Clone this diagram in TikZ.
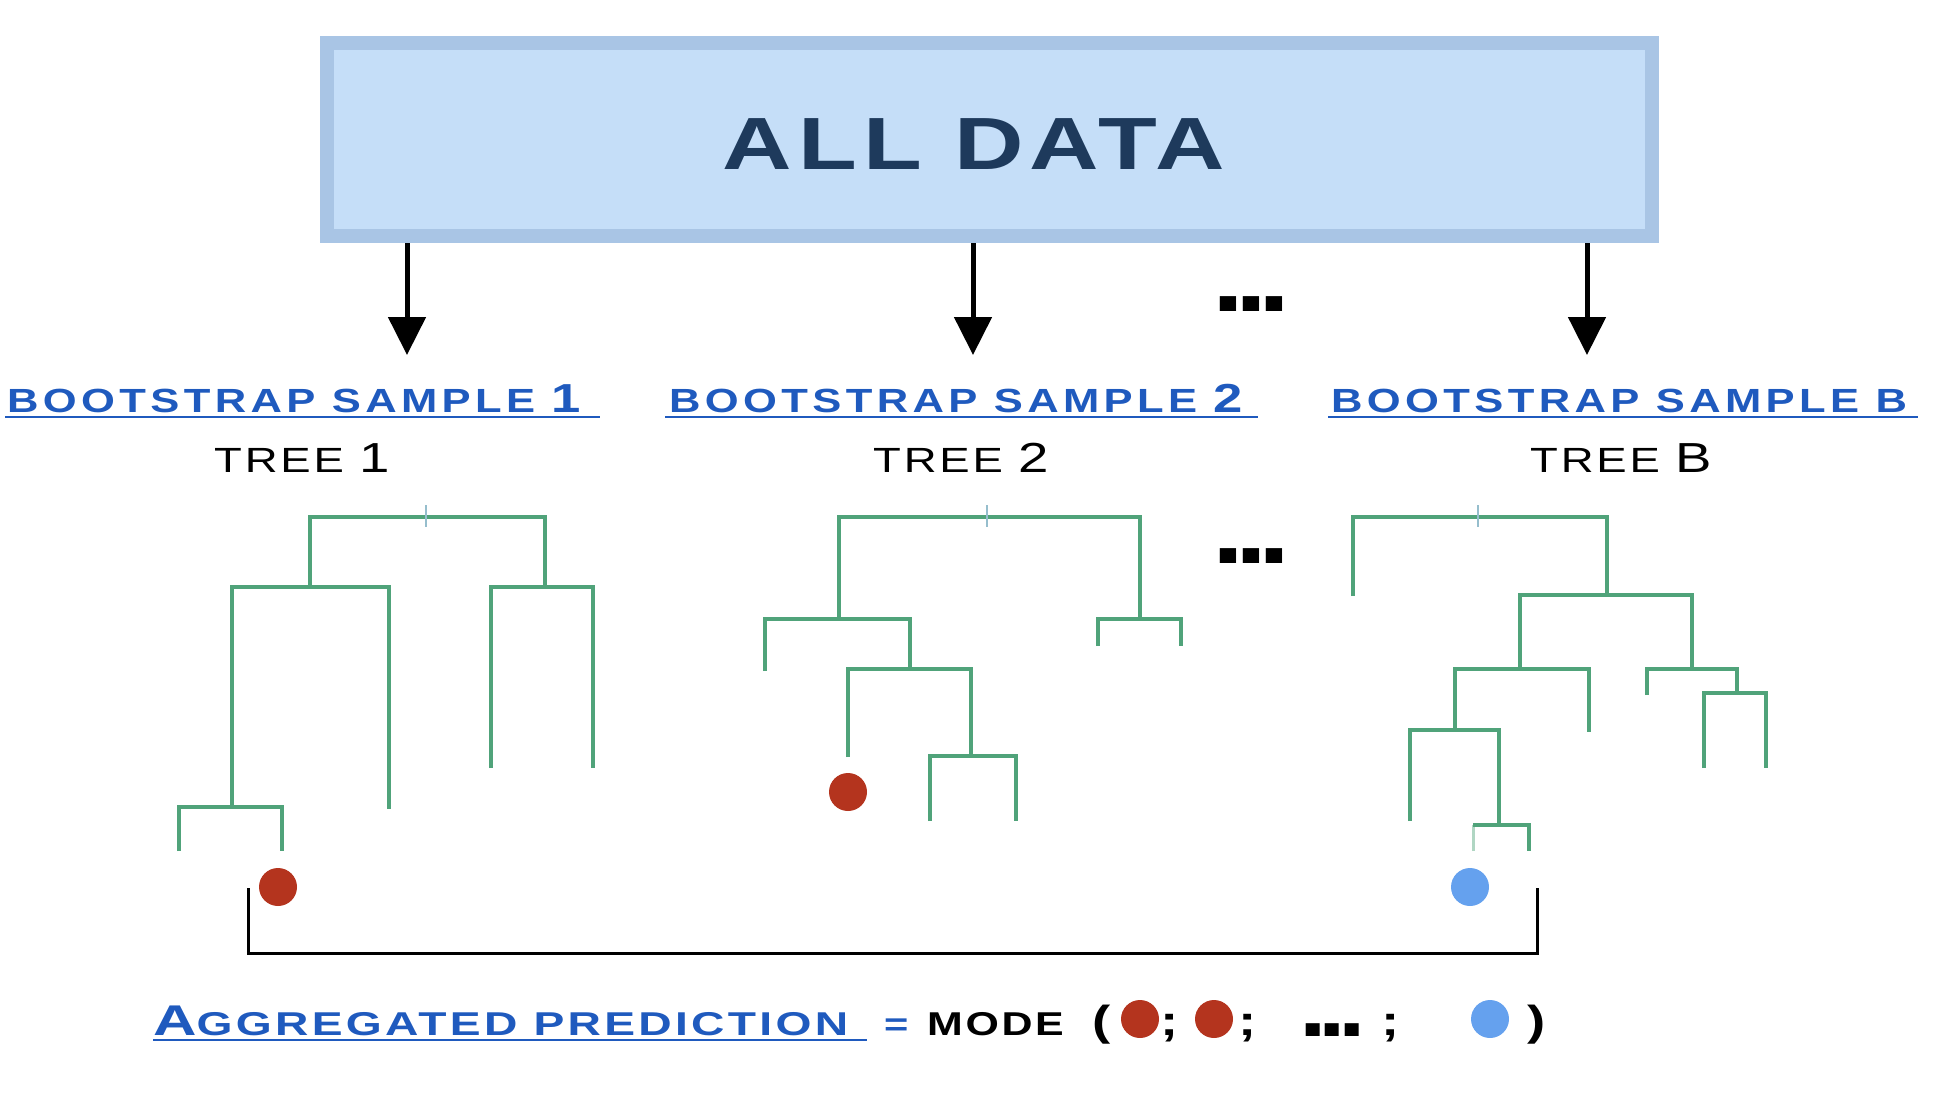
\documentclass[tikz,border=0pt]{standalone}
\usepackage{fontspec}
\setmainfont{Liberation Sans}
\newfontfamily\cpf{Liberation Sans}[FakeStretch=1.3,LetterSpace=8]
\newfontfamily\bsf{Liberation Sans}[FakeStretch=1.3,LetterSpace=13]
\newfontfamily\aggf{Liberation Sans}[FakeStretch=1.4,LetterSpace=10]
\newfontfamily\elf{Liberation Sans}[FakeStretch=1.15,LetterSpace=-9]
\usetikzlibrary{arrows.meta}
\definecolor{bsblue}{RGB}{31,90,190}
\definecolor{treegreen}{RGB}{80,163,122}
\definecolor{dotred}{RGB}{180,52,30}
\definecolor{dotblue}{RGB}{101,161,238}
\definecolor{boxfill}{RGB}{197,222,248}
\definecolor{boxborder}{RGB}{169,197,229}
\definecolor{titlecol}{RGB}{30,58,92}
\definecolor{tickcol}{RGB}{150,190,205}
\begin{document}
\begin{tikzpicture}[x=1pt,y=-1pt,
  tree/.style={draw=treegreen,line width=3.5pt,line cap=butt,line join=miter},
  faint/.style={draw=treegreen!45,line width=3pt},
  tick/.style={draw=tickcol,line width=2.5pt},
  arr/.style={draw=black,line width=5pt,-{Triangle[length=38pt,width=37pt]}},
  bracket/.style={draw=black,line width=3pt,line join=miter},
  uline/.style={draw=bsblue,line width=2.8pt},
  bslabel/.style={anchor=base west,inner sep=0pt,text=bsblue,font=\bsf\bfseries\fontsize{33.5}{40}\selectfont},
  treelabel/.style={anchor=base west,inner sep=0pt,text=black,font=\cpf\fontsize{35}{42}\selectfont},
  ellip/.style={anchor=base west,inner sep=0pt,text=black,font=\elf\bfseries\fontsize{100}{100}\selectfont},
  ellipsmall/.style={anchor=base west,inner sep=0pt,text=black,font=\elf\bfseries\fontsize{86}{86}\selectfont},
  vote/.style={circle,inner sep=0pt,minimum size=38pt},
  blk/.style={anchor=base west,inner sep=0pt,text=black,font=\cpf\bfseries\fontsize{33}{38}\selectfont},
  punct/.style={anchor=base west,inner sep=0pt,text=black,font=\cpf\bfseries\fontsize{42}{48}\selectfont},
]
\useasboundingbox (0,0) rectangle (1942,1094);

% top box
\node[draw=boxborder,fill=boxfill,line width=14pt,minimum width=1325pt,minimum height=193pt,outer sep=7pt,inner sep=0pt] (alldata) at (989.5,139.5) {};
\node[anchor=base,inner sep=0pt,text=titlecol,font=\cpf\bfseries\fontsize{74}{80}\selectfont] (alltext) at (974,170) {ALL DATA};

% arrows
\coordinate (tip1) at (407,355);
\coordinate (tip2) at (973,355);
\coordinate (tipB) at (1587,355);
\draw[arr] (alldata.south -| tip1) -- (tip1);
\draw[arr] (alldata.south -| tip2) -- (tip2);
\draw[arr] (alldata.south -| tipB) -- (tipB);
\node[ellip] (dotsA) at (1212,311) {...};

% sample labels
\node[bslabel] (bs1) at (7,412) {BOOTSTRAP SAMPLE {\fontsize{40.5}{48}\selectfont 1}};
\node[bslabel] (bs2) at (669,412) {BOOTSTRAP SAMPLE {\fontsize{40.5}{48}\selectfont 2}};
\node[bslabel] (bsB) at (1331,412) {BOOTSTRAP SAMPLE B};
\draw[uline] ([xshift=-2pt,yshift=-5pt]bs1.base west) -- ++(595,0);
\draw[uline] ([xshift=-4pt,yshift=-5pt]bs2.base west) -- ++(593,0);
\draw[uline] ([xshift=-3pt,yshift=-5pt]bsB.base west) -- ++(590,0);

\node[treelabel] (tr1) at (214,472) {TREE {\fontsize{42}{48}\selectfont 1}};
\node[treelabel] (tr2) at (873,472) {TREE {\fontsize{42}{48}\selectfont 2}};
\node[treelabel] (trB) at (1530,472) {TREE {\fontsize{42}{48}\selectfont B}};

% tree 1
\draw[tree] (310,587) -- (310,517) -- (545,517) -- (545,587);
\draw[tree] (232,807) -- (232,587) -- (389,587) -- (389,809);
\draw[tree] (179,851) -- (179,807) -- (282,807) -- (282,851);
\draw[tree] (491,768) -- (491,587) -- (593,587) -- (593,768);
\draw[tick] (426,505) -- (426,527);
\node[vote,fill=dotred] (p1) at (278,887) {};

% tree 2
\draw[tree] (839,619) -- (839,517) -- (1140,517) -- (1140,619);
\draw[tree] (765,671) -- (765,619) -- (910,619) -- (910,669);
\draw[tree] (848,757) -- (848,669) -- (971,669) -- (971,756);
\draw[tree] (930,821) -- (930,756) -- (1016,756) -- (1016,821);
\draw[tree] (1098,646) -- (1098,619) -- (1181,619) -- (1181,646);
\draw[tick] (987,505) -- (987,527);
\node[vote,fill=dotred] (p2) at (848,792) {};
\node[ellip] (dotsB) at (1212,563) {...};

% tree B
\draw[tree] (1353,596) -- (1353,517) -- (1607,517) -- (1607,595);
\draw[tree] (1520,669) -- (1520,595) -- (1692,595) -- (1692,669);
\draw[tree] (1455,730) -- (1455,669) -- (1589,669) -- (1589,732);
\draw[tree] (1410,821) -- (1410,730) -- (1499,730) -- (1499,825);
\draw[faint] (1473,851) -- (1473,825);
\draw[tree] (1473,825) -- (1529,825) -- (1529,851);
\draw[tree] (1647,695) -- (1647,669) -- (1737,669) -- (1737,693);
\draw[tree] (1704,768) -- (1704,693) -- (1766,693) -- (1766,768);
\draw[tick] (1478,505) -- (1478,527);
\node[vote,fill=dotblue] (pB) at (1470,887) {};

% bracket
\coordinate (brl) at (248,888);
\coordinate (brr) at (1537,888);
\draw[bracket] (brl) -- ++(0,65) -| (brr);

% aggregated prediction
\node[anchor=base west,inner sep=0pt,text=bsblue,font=\aggf\bfseries\fontsize{43}{50}\selectfont] (agg) at (153,1035) {A{\fontsize{33}{38}\selectfont GGREGATED PREDICTION}};
\draw[uline] ([yshift=-5pt]agg.base west) -- ++(714,0);
\node[anchor=base west,inner sep=0pt,text=bsblue,font=\cpf\bfseries\fontsize{32}{38}\selectfont] (eq) at (884,1035) {=};
\node[blk] (mode) at (927,1035) {MODE};
\node[punct] (lp) at (1092,1035) {(};
\node[vote,fill=dotred] (v1) at (1140,1019) {};
\node[punct] (sc1) at (1160,1035) {;};
\node[vote,fill=dotred] (v2) at (1214,1019) {};
\node[punct] (sc2) at (1238,1035) {;};
\node[ellipsmall] (dotsC) at (1299,1036) {...};
\node[punct] (sc3) at (1381,1035) {;};
\node[vote,fill=dotblue] (v3) at (1490,1019) {};
\node[punct] (rp) at (1527,1035) {)};
\end{tikzpicture}
\end{document}
